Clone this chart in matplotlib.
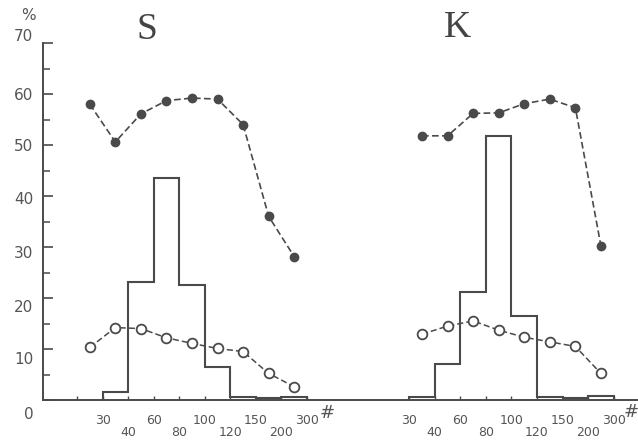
import numpy as np
import matplotlib.pyplot as plt
from matplotlib.transforms import ScaledTranslation, blended_transform_factory

# sieve numbers (#) marking the bin edges
sieves = ['30', '40', '60', '80', '100', '120', '150', '200', '300']

# S sample: histogram per sieve fraction, curves have one extra (+30) fraction on the left
s_hist = [1.5, 23.1, 43.5, 22.5, 6.5, 0.6, 0.3, 0.6]
s_dark = [58.0, 50.6, 56.1, 58.7, 59.2, 59.0, 54.0, 36.0, 28.1]
s_open = [10.3, 14.2, 14.0, 12.2, 11.1, 10.1, 9.5, 5.2, 2.6]

# K sample
k_hist = [0.6, 7.0, 21.2, 51.8, 16.5, 0.6, 0.3, 0.7]
k_dark = [51.8, 51.8, 56.2, 56.3, 58.1, 59.0, 57.3, 30.2]
k_open = [12.9, 14.5, 15.5, 13.7, 12.3, 11.4, 10.5, 5.2]

ink = '#4a4a4a'
txt = '#555555'

fig = plt.figure(figsize=(6.38, 4.43), dpi=100)
ax = fig.add_axes([43/638, 43/443, 1 - 43/638, 357/443])


def panel(x0, hist, dark, op):
    # x0 = slot of the #30 edge, one slot per sieve fraction
    n = len(hist)
    extra = len(dark) - n
    edges = x0 + np.arange(n + 1)
    ax.stairs(hist, edges, baseline=0, color=ink, lw=1.5)
    mid = x0 - extra + np.arange(len(dark)) + 0.5
    ax.plot(mid, dark, ls=(0, (4, 2)), color=ink, lw=1.2,
            marker='o', ms=6, mfc=ink, mec=ink)
    ax.plot(mid, op, ls=(0, (4, 2)), color=ink, lw=1.1,
            marker='o', ms=7, mfc='white', mec=ink, mew=1.3)
    return np.arange(x0 - extra, x0 + n + 1)


s_ticks = panel(1, s_hist, s_dark, s_open)
k_ticks = panel(13, k_hist, k_dark, k_open)

ax.set_xlim(-1.33, 21.95)
ax.set_ylim(0, 70)

for side in ['top', 'right']:
    ax.spines[side].set_visible(False)
for side in ['left', 'bottom']:
    ax.spines[side].set_color(ink)
    ax.spines[side].set_linewidth(1.4)

# y axis
ax.set_yticks(np.arange(0, 71, 10))
ax.set_yticks(np.arange(5, 70, 10), minor=True)
ax.tick_params(axis='y', which='major', direction='in', length=7, width=1.2,
               color=ink, labelsize=11, labelcolor=txt, pad=7)
ax.tick_params(axis='y', which='minor', direction='in', length=5, width=1.1, color=ink)
# hand-typed labels drift a little from the ticks
dys = [-13, -9, -8, -5, -2, 0, 0, 8]
for lbl, dy in zip(ax.get_yticklabels(), dys):
    lbl.set_transform(lbl.get_transform() + ScaledTranslation(0, dy/100, fig.dpi_scale_trans))

# x axis: staggered sieve labels at the bin edges
maj_pos, maj_lab, min_pos, min_lab = [], [], [], []
for ticks in [s_ticks, k_ticks]:
    labs = [''] * (len(ticks) - len(sieves)) + sieves
    for i, (p, l) in enumerate(zip(ticks[::-1], labs[::-1])):
        if i % 2 == 0 or l == '':
            maj_pos.append(p); maj_lab.append(l)
        else:
            min_pos.append(p); min_lab.append(l)
ax.set_xticks(maj_pos, maj_lab)
ax.set_xticks(min_pos, min_lab, minor=True)
ax.tick_params(axis='x', which='both', direction='in', length=3, width=1,
               color=ink, labelsize=9, labelcolor=txt)
ax.tick_params(axis='x', which='major', pad=10)
ax.tick_params(axis='x', which='minor', pad=19)

tr = blended_transform_factory(ax.transData, ax.transAxes)
ax.text(9.78, -0.036, '#', transform=tr, ha='center', va='center',
        fontsize=13, style='italic', color=txt)
ax.text(21.67, -0.034, '#', transform=tr, ha='center', va='center',
        fontsize=13, style='italic', color=txt)

ax.text(2.75, 1.038, 'S', transform=tr, ha='center', va='center',
        family='Liberation Serif', fontsize=27, color='#444444')
ax.text(14.9, 1.043, 'K', transform=tr, ha='center', va='center',
        family='Liberation Serif', fontsize=27, color='#444444')

fig.text(28/638, 1 - 15/443, '%', ha='center', va='center', fontsize=11, color=txt)

fig.savefig('out.png', dpi=100)
